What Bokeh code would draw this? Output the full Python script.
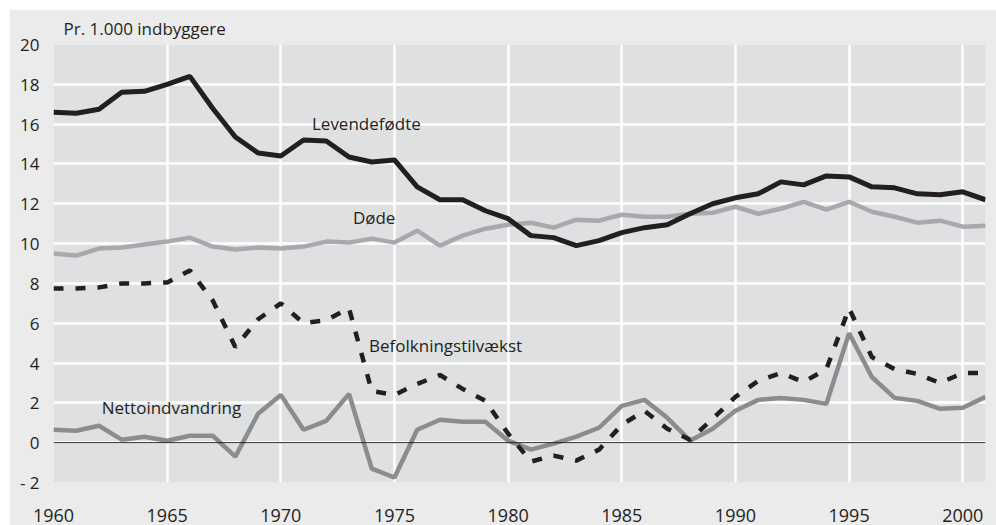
from bokeh.plotting import figure
from bokeh.models import ColumnDataSource, Range1d, FixedTicker, Span, Label
from bokeh.embed import file_html
from bokeh.resources import INLINE

years = list(range(1960, 2002))

levendefodte = [16.6, 16.55, 16.75, 17.6, 17.65, 18.0, 18.4, 16.8, 15.35, 14.55,
                14.4, 15.2, 15.15, 14.35, 14.1, 14.2, 12.85, 12.2, 12.2, 11.65,
                11.25, 10.4, 10.3, 9.9, 10.15, 10.55, 10.8, 10.95, 11.5, 12.0,
                12.3, 12.5, 13.1, 12.95, 13.4, 13.35, 12.85, 12.8, 12.5, 12.45,
                12.6, 12.2]

dode = [9.5, 9.4, 9.75, 9.8, 9.95, 10.1, 10.3, 9.85, 9.7, 9.8,
        9.75, 9.85, 10.1, 10.05, 10.25, 10.05, 10.65, 9.9, 10.4, 10.75,
        10.95, 11.05, 10.8, 11.2, 11.15, 11.45, 11.35, 11.35, 11.5, 11.55,
        11.85, 11.5, 11.75, 12.1, 11.7, 12.1, 11.6, 11.35, 11.05, 11.15,
        10.85, 10.9]

befolkningstilvaekst = [7.75, 7.75, 7.8, 8.0, 8.0, 8.05, 8.65, 7.15, 4.8, 6.2,
                        7.0, 6.0, 6.15, 6.75, 2.6, 2.4, 2.95, 3.4, 2.7, 2.1,
                        0.45, -0.95, -0.65, -0.9, -0.35, 0.9, 1.6, 0.7, 0.15, 1.2,
                        2.3, 3.1, 3.5, 3.05, 3.7, 6.75, 4.3, 3.7, 3.45, 3.0,
                        3.5, 3.5]

nettoindvandring = [0.65, 0.6, 0.85, 0.15, 0.3, 0.1, 0.35, 0.35, -0.7, 1.45,
                    2.4, 0.65, 1.1, 2.45, -1.3, -1.75, 0.65, 1.15, 1.05, 1.05,
                    0.1, -0.35, -0.05, 0.3, 0.75, 1.85, 2.15, 1.25, 0.1, 0.7,
                    1.6, 2.15, 2.25, 2.15, 1.95, 5.5, 3.3, 2.25, 2.1, 1.7,
                    1.75, 2.3]

x_ticks = [1960, 1965, 1970, 1975, 1980, 1985, 1990, 1995, 2000]
y_ticks = [-2, 0, 2, 4, 6, 8, 10, 12, 14, 16, 18, 20]
y_tick_labels = {-2: "- 2"}

FONT = "Open Sans"
TXT = "#231f20"

src = ColumnDataSource(dict(year=years, lev=levendefodte, dode=dode,
                            bef=befolkningstilvaekst, net=nettoindvandring))

p = figure(width=987, height=516, output_backend="svg", toolbar_location=None,
           x_range=Range1d(1960, 2001), y_range=Range1d(-2, 20),
           min_border_left=44, min_border_right=11, min_border_top=35,
           min_border_bottom=43, title="Pr. 1.000 indbyggere")
p.margin = (9, 0, 0, 9)

p.title.text_font = FONT
p.title.text_font_size = "17px"
p.title.text_font_style = "normal"
p.title.text_color = TXT
p.title.align = "left"
p.title.offset = 10
p.title.standoff = 9

p.background_fill_color = "#dfe0e2"
p.border_fill_color = "#ebebec"
p.outline_line_color = None

p.xgrid.ticker = FixedTicker(ticks=x_ticks)
p.ygrid.ticker = FixedTicker(ticks=y_ticks)
for g in (p.xgrid, p.ygrid):
    g.grid_line_color = "white"
    g.grid_line_width = 2.5

p.xaxis.ticker = FixedTicker(ticks=x_ticks)
p.yaxis.ticker = FixedTicker(ticks=y_ticks)
p.yaxis.major_label_overrides = y_tick_labels
for ax in (p.xaxis, p.yaxis):
    ax.axis_line_color = None
    ax.major_tick_line_color = None
    ax.minor_tick_line_color = None
    ax.major_tick_out = 0
    ax.major_tick_in = 0
    ax.minor_tick_out = 0
    ax.major_label_text_font = FONT
    ax.major_label_text_color = TXT
p.yaxis.major_label_text_font_size = "17px"
p.xaxis.major_label_text_font_size = "18px"
p.xaxis.major_label_text_line_height = 0.7
p.yaxis.major_label_standoff = 14
p.xaxis.major_label_standoff = 26

p.add_layout(Span(location=0, dimension="width", line_color="#231f20", line_width=1))

p.line("year", "dode", source=src, line_color="#a7a9ac", line_width=4.5)
p.line("year", "net", source=src, line_color="#8b8c8e", line_width=4.5)
p.line("year", "bef", source=src, line_color="#231f20", line_width=4.5,
       line_dash="10 12")
p.line("year", "lev", source=src, line_color="#231f20", line_width=5)

labels = [
    ("Levendefødte", 1971.37, 16.05),
    ("Døde", 1973.17, 11.32),
    ("Befolkningstilvækst", 1973.88, 4.89),
    ("Nettoindvandring", 1962.12, 1.79),
]
for t, x, y in labels:
    p.add_layout(Label(x=x, y=y, text=t, text_font=FONT, text_font_size="17px",
                       text_color=TXT, text_baseline="middle", text_align="left"))

open("out.html", "w").write(file_html(p, INLINE))
